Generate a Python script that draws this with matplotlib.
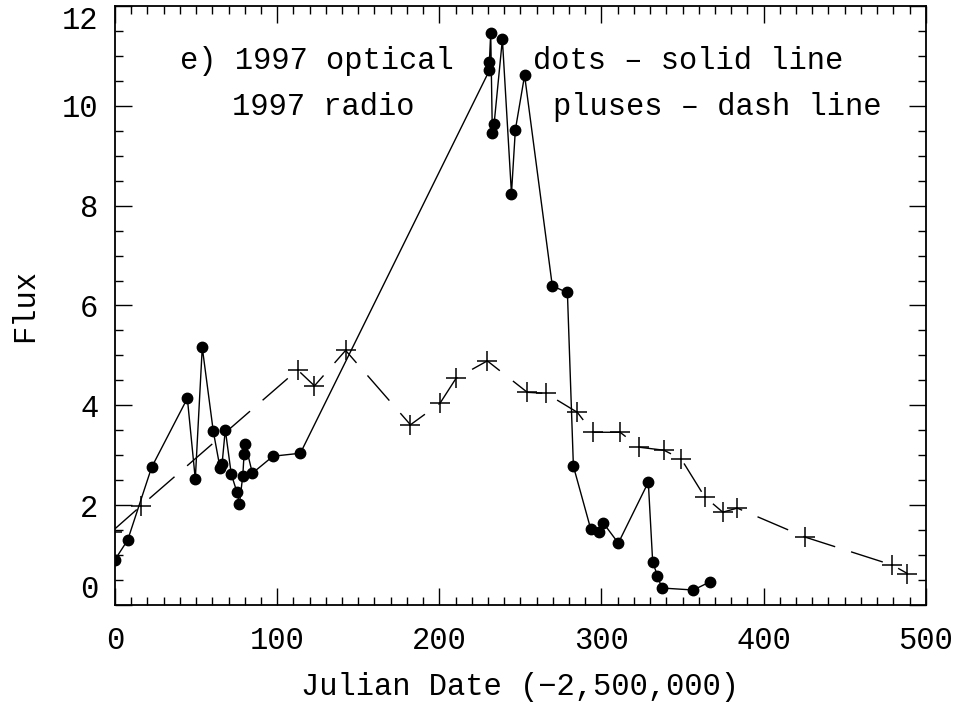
import matplotlib
matplotlib.use("Agg")
import matplotlib.pyplot as plt
from matplotlib.ticker import MultipleLocator

# Optical (dots, solid line)
opt_x = [0, 7.8, 22.6, 44.6, 49.5, 53.8, 60.6, 64.8, 66.0, 68.0, 71.7, 75.2, 76.7,
         78.8, 79.6, 80.4, 84.7, 97.4, 114.3, 230.9, 230.9, 231.7, 232.7, 233.8,
         238.9, 244.5, 246.9, 252.6, 269.7, 279.0, 282.7, 293.4, 298.7, 301.2,
         310.4, 328.9, 331.6, 334.5, 337.2, 356.7, 366.7]
opt_y = [0.91, 1.30, 2.76, 4.14, 2.52, 5.16, 3.48, 2.74, 2.82, 3.51, 2.62, 2.26, 2.02,
         2.59, 3.03, 3.22, 2.64, 2.98, 3.04, 10.71, 10.88, 11.46, 9.46, 9.64,
         11.33, 8.24, 9.52, 10.61, 6.39, 6.26, 2.78, 1.52, 1.46, 1.64,
         1.24, 2.46, 0.86, 0.59, 0.34, 0.30, 0.46]

# Radio (pluses, dashed line)
rad_x = [-2, 15.8, 112.6, 123.0, 142.2, 182.2, 200.4, 210.3, 229.6, 254.3, 265.8,
         285.1, 294.6, 311.5, 323.4, 338.6, 349.3, 363.6, 374.8, 383.8, 425.6,
         479.4, 488.7]
rad_y = [1.47, 1.98, 4.71, 4.39, 5.10, 3.61, 4.04, 4.54, 4.89, 4.26, 4.24,
         3.86, 3.46, 3.46, 3.16, 3.10, 2.92, 2.17, 1.86, 1.94, 1.36,
         0.80, 0.63]

x_ticks = [0, 100, 200, 300, 400, 500]
y_ticks = [0, 2, 4, 6, 8, 10, 12]

plt.rcParams["font.family"] = ["Liberation Mono", "DejaVu Sans Mono"]
FS = 22

fig = plt.figure(figsize=(9.61, 7.02), dpi=100)
ax = fig.add_axes([0.1197, 0.1382, 0.8436, 0.8533])

ax.plot(opt_x, opt_y, color="black", lw=1.0, marker="o", ms=7.5,
        markerfacecolor="black", markeredgecolor="black")
ax.plot(rad_x, rad_y, color="black", lw=1.0, dashes=(24, 12), marker="+",
        ms=15, markeredgewidth=1.1)

ax.set_xlim(0, 500)
ax.set_ylim(0, 12)

ax.set_xticks(x_ticks)
ax.set_yticks(y_ticks)
ax.xaxis.set_minor_locator(MultipleLocator(10))
ax.yaxis.set_minor_locator(MultipleLocator(0.5))
ax.tick_params(which="both", direction="in", top=True, right=True, width=1.0,
               labelsize=FS, colors="black")
ax.tick_params(axis="x", which="major", length=12, pad=15)
ax.tick_params(axis="y", which="major", length=12, pad=12)
ax.tick_params(which="minor", length=6)
for s in ax.spines.values():
    s.set_linewidth(1.3)

ylabels = ax.get_yticklabels()
ylabels[0].set_va("bottom")
ylabels[-1].set_va("top")

ax.set_xlabel("Julian Date (\u22122,500,000)", fontsize=FS, labelpad=12)
ax.set_ylabel("Flux", fontsize=FS, labelpad=16)

ax.text(40, 10.9, "e) 1997 optical", fontsize=FS, va="center", ha="left")
ax.text(257.5, 10.9, "dots \u2013 solid line", fontsize=FS, va="center", ha="left")
ax.text(72, 9.97, "1997 radio", fontsize=FS, va="center", ha="left")
ax.text(270, 9.97, "pluses \u2013 dash line", fontsize=FS, va="center", ha="left")

fig.savefig("out.png", dpi=100)
